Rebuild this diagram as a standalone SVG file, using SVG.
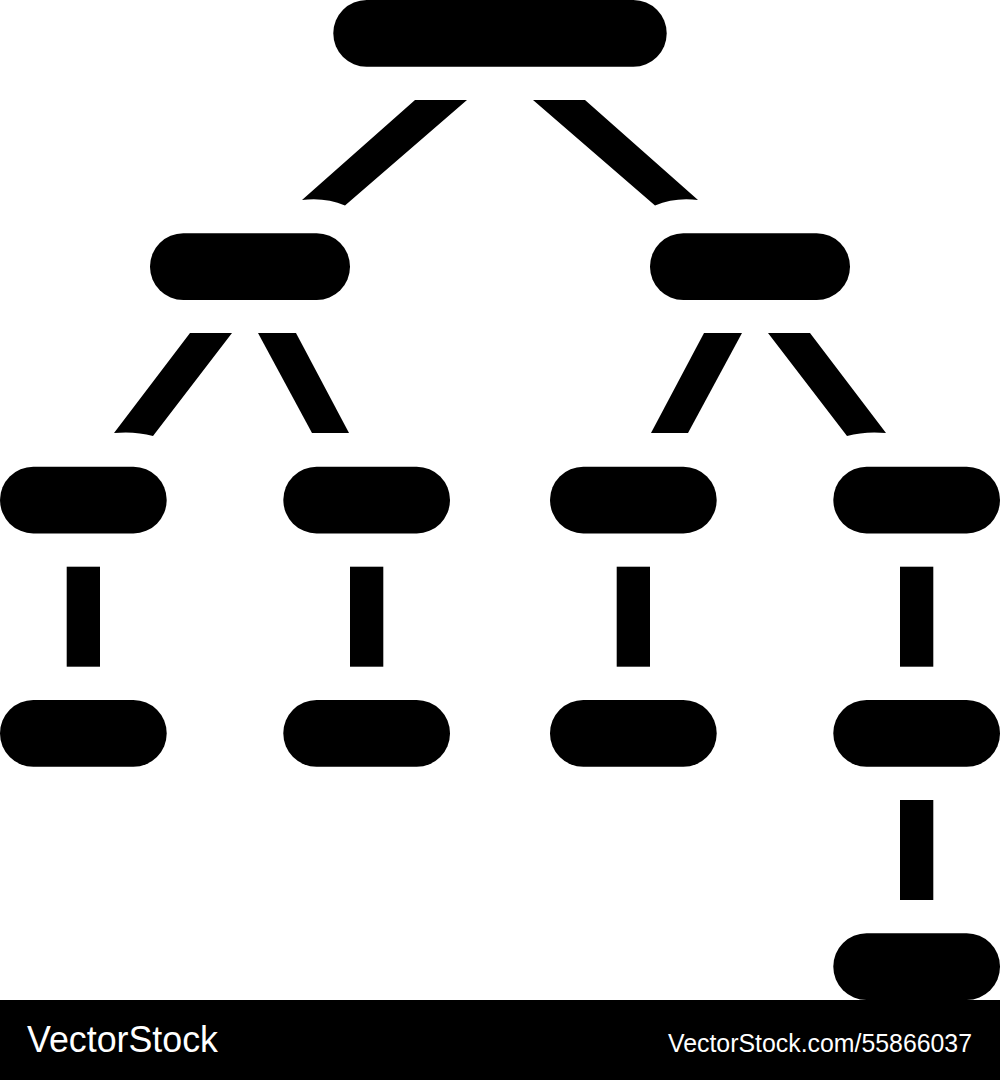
<svg xmlns="http://www.w3.org/2000/svg" width="1000" height="1080" viewBox="0 0 1000 1080">
<style>
.node{fill:#000}
.conn{fill:#000}
.wm{fill:#fff;font-family:"Liberation Sans",Arial,sans-serif}
</style>
<rect width="1000" height="1080" fill="#fff"/>
<g id="connectors">
<path class="conn" d="M415,100 L467,100 L345,205.5 Q325,197 302,200 Z"/>
<path class="conn" d="M585,100 L533,100 L655,205.5 Q675,197 698,200 Z"/>
<path class="conn" d="M190,333 L232,333 L153,436 Q135,431 114,433 Z"/>
<path class="conn" d="M258,333 L296,333 L349,433 L312,433 Z"/>
<path class="conn" d="M810,333 L768,333 L847,436 Q865,431 886,433 Z"/>
<path class="conn" d="M742,333 L704,333 L651,433 L688,433 Z"/>
<rect class="conn" x="66.7" y="566.7" width="33.3" height="100"/>
<rect class="conn" x="350" y="566.7" width="33.3" height="100"/>
<rect class="conn" x="616.7" y="566.7" width="33.3" height="100"/>
<rect class="conn" x="900" y="566.7" width="33.3" height="100"/>
<rect class="conn" x="900" y="800" width="33.3" height="100"/>
</g>
<g id="n-root"><rect class="node" x="333.3" y="0" width="333.4" height="66.7" rx="33.3"/></g>
<g id="n-l"><rect class="node" x="150" y="233.3" width="200" height="66.7" rx="33.3"/></g>
<g id="n-r"><rect class="node" x="650" y="233.3" width="200" height="66.7" rx="33.3"/></g>
<g id="n-ll"><rect class="node" x="0" y="466.7" width="166.7" height="66.7" rx="33.3"/></g>
<g id="n-lr"><rect class="node" x="283.3" y="466.7" width="166.7" height="66.7" rx="33.3"/></g>
<g id="n-rl"><rect class="node" x="550" y="466.7" width="166.7" height="66.7" rx="33.3"/></g>
<g id="n-rr"><rect class="node" x="833.3" y="466.7" width="166.7" height="66.7" rx="33.3"/></g>
<g id="n-ll2"><rect class="node" x="0" y="700" width="166.7" height="66.7" rx="33.3"/></g>
<g id="n-lr2"><rect class="node" x="283.3" y="700" width="166.7" height="66.7" rx="33.3"/></g>
<g id="n-rl2"><rect class="node" x="550" y="700" width="166.7" height="66.7" rx="33.3"/></g>
<g id="n-rr2"><rect class="node" x="833.3" y="700" width="166.7" height="66.7" rx="33.3"/></g>
<g id="n-rr3"><rect class="node" x="833.3" y="933.3" width="166.7" height="66.7" rx="33.3"/></g>
<g id="watermark">
<rect x="0" y="1000" width="1000" height="80" fill="#000"/>
<text class="wm" x="27" y="1052" font-size="36" textLength="191" lengthAdjust="spacingAndGlyphs">VectorStock</text>
<text class="wm" x="668" y="1052" font-size="26" textLength="304" lengthAdjust="spacingAndGlyphs">VectorStock.com/55866037</text>
</g>
</svg>
